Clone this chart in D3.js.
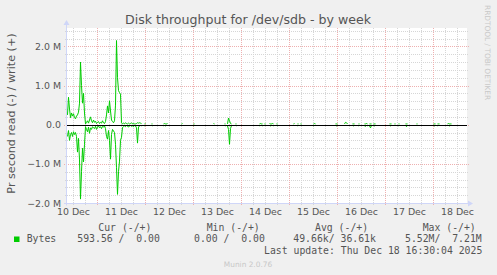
<!DOCTYPE html>
<html lang="en">
<head>
<meta charset="utf-8">
<title>Disk throughput for /dev/sdb - by week</title>
<script src="https://cdn.jsdelivr.net/npm/d3@7"></script>
<style>
  body { margin: 0; background: #f0f0f0; }
  svg text { fill: #555; }
  .sans { font-family: "DejaVu Sans", sans-serif; }
  .mono { font-family: "DejaVu Sans Mono", monospace; font-size: 9.8px; white-space: pre; }
</style>
</head>
<body>
<script>
// time window: 30 min per sample, 400 samples
const startTime = new Date(2025, 11, 10, 9, 0);
const endTime = new Date(2025, 11, 18, 17, 0);
const stepMinutes = 30;

// busy part at the start of the week, one value per sample (MB/s)
const writeBusy = [0.25, 0.70, 0.40, 0.18, 0.30, 0.22, 0.28, 0.18, 0.15, 0.22,
                   0.25, 0.32, 0.55, 1.60, 1.00, 0.55, 0.80, 0.30, 0.02, 0.06,
                   0.10, 0.04, 0.12, 0.20, 0.10, 0.05, 0.12, 0.06, 0.09, 0.03,
                   0.06, 0.08, 0.03, 0.06, 0.04, 0.10, 0.05, 0.03, 0.08, 0.25,
                   0.48, 0.30, 0.61, 0.35, 0.12, 0.08, 0.05, 0.10, 0.50, 2.15,
                   1.20, 0.87, 0.82, 0.78, 0.05, 0.02, 0.04, 0.02, 0.05, 0.03,
                   0.02, 0.04, 0.02, 0.03, 0.05, 0.02, 0.03, 0.02, 0.02, 0.03,
                   0.05, 0.04, 0.05, 0.04, 0.03];
const readBusy  = [0.30, 0.15, 0.40, 0.25, 0.20, 0.30, 0.18, 0.25, 0.20, 0.30,
                   0.70, 0.35, 0.90, 1.90, 1.20, 0.60, 0.95, 0.50, 0.05, 0.12,
                   0.18, 0.06, 0.22, 0.08, 0.12, 0.05, 0.08, 0.10, 0.04, 0.12,
                   0.06, 0.03, 0.08, 0.05, 0.10, 0.04, 0.06, 0.03, 0.10, 0.30,
                   0.37, 0.15, 0.40, 0.88, 0.25, 0.12, 0.16, 0.20, 0.50, 1.10,
                   1.78, 1.20, 0.93, 0.40, 0.32, 0.07, 0.05, 0.03, 0.05, 0.02,
                   0.04, 0.06, 0.03, 0.02, 0.04, 0.03, 0.05, 0.02, 0.03, 0.08,
                   0.47, 0.06, 0.03, 0.02, 0.03];

// later, only short runs of samples: [first sample, write values, read values]
const quietRuns = [
  [77,  [0.02, 0.03], [0.03, 0.02]],
  [84,  [0.02, 0.02], [0.02, 0.03]],
  [96,  [0.02, 0.03, 0.02, 0.02, 0.03], [0.03, 0.02, 0.03, 0.02, 0.02]],
  [114, [0.02, 0.03], [0.02, 0.02]],
  [126, [0.02, 0.02], [0.03, 0.02]],
  [146, [0.03, 0.02], [0.02, 0.02]],
  [157, [0.02, 0.02], [0.02, 0.03]],
  [160, [0.02, 0.17, 0.10, 0.03, 0.02], [0.03, 0.12, 0.50, 0.10, 0.02]],
  [168, [0.02, 0.02], [0.02, 0.03]],
  [192, [0.02, 0.03, 0.02, 0.02], [0.03, 0.02, 0.02, 0.03]],
  [197, [0.02, 0.02], [0.02, 0.02]],
  [202, [0.03, 0.02, 0.02, 0.03, 0.02], [0.02, 0.03, 0.02, 0.02, 0.03]],
  [209, [0.02, 0.02], [0.02, 0.03]],
  [226, [0.02, 0.03], [0.02, 0.02]],
  [230, [0.02, 0.02], [0.03, 0.02]],
  [233, [0.02, 0.02], [0.02, 0.02]],
  [246, [0.02, 0.03, 0.02], [0.03, 0.02, 0.02]],
  [268, [0.02, 0.02, 0.02], [0.02, 0.03, 0.02]],
  [277, [0.02, 0.06, 0.05, 0.02], [0.02, 0.02, 0.02, 0.02]],
  [285, [0.02, 0.02, 0.02], [0.02, 0.03, 0.02]],
  [291, [0.02, 0.02], [0.03, 0.02]],
  [297, [0.02, 0.02, 0.03, 0.02], [0.03, 0.04, 0.02, 0.03]],
  [302, [0.02, 0.02, 0.02], [0.03, 0.08, 0.02]],
  [306, [0.02, 0.02, 0.02], [0.02, 0.03, 0.02]],
  [322, [0.02, 0.02, 0.02], [0.02, 0.03, 0.02]],
  [327, [0.02, 0.02], [0.02, 0.02]],
  [331, [0.02, 0.02], [0.03, 0.02]],
  [338, [0.02, 0.02, 0.02], [0.02, 0.05, 0.02]],
  [349, [0.02, 0.02], [0.02, 0.02]],
  [366, [0.02, 0.02, 0.02], [0.02, 0.03, 0.02]],
  [370, [0.02, 0.02, 0.02], [0.03, 0.02, 0.02]],
  [380, [0.02, 0.03, 0.02, 0.02, 0.02], [0.02, 0.02, 0.03, 0.02, 0.02]]
];

// axis labels
const labelDays = [10, 11, 12, 13, 14, 15, 16, 17, 18];
const yLabelValues = [-2, -1, 0, 1, 2];
const legendHeads = ["Cur (-/+)", "Min (-/+)", "Avg (-/+)", "Max (-/+)"];
const legendValues = ["593.56 /  0.00", "0.00 /  0.00", "49.66k/ 36.61k", "5.52M/  7.21M"];

const W = 497, H = 275;
const plot = {left: 67, top: 28, width: 400, height: 175};

// put samples on a 400 slot timeline, NaN where nothing was recorded
const nSlots = 400;
const writeSeries = new Array(nSlots).fill(NaN);
const readSeries = new Array(nSlots).fill(NaN);
writeBusy.forEach((v, i) => writeSeries[i] = v);
readBusy.forEach((v, i) => readSeries[i] = v);
quietRuns.forEach(([s, w, r]) => {
  w.forEach((v, i) => writeSeries[s + i] = v);
  r.forEach((v, i) => readSeries[s + i] = v);
});
const slotTime = i => d3.timeMinute.offset(startTime, i * stepMinutes);

const x = d3.scaleTime()
  .domain([startTime, endTime])
  .range([plot.left, plot.left + plot.width]);
const y = d3.scaleLinear()
  .domain([-2.0, 2.47])
  .range([plot.top + plot.height, plot.top]);

const svg = d3.select("body").append("svg")
  .attr("width", W).attr("height", H)
  .style("display", "block");

svg.append("rect").attr("width", W).attr("height", H).attr("fill", "#f0f0f0");
svg.append("rect")
  .attr("x", plot.left).attr("y", plot.top)
  .attr("width", plot.width).attr("height", plot.height)
  .attr("fill", "#ffffff");

// grid
const grid = svg.append("g").attr("shape-rendering", "crispEdges");
const minorY = y.ticks(20).filter(v => Math.abs(v - Math.round(v)) > 1e-6);
grid.selectAll(".hminor").data(minorY).join("line")
  .attr("x1", plot.left - 2).attr("x2", plot.left + plot.width + 1)
  .attr("y1", d => Math.round(y(d)) + 0.5).attr("y2", d => Math.round(y(d)) + 0.5)
  .attr("stroke", "#d6d6d6").attr("stroke-dasharray", "1,1");
const minorX = d3.timeHour.every(6).range(startTime, endTime)
  .filter(t => t.getHours() !== 0);
grid.selectAll(".vminor").data(minorX).join("line")
  .attr("x1", d => Math.round(x(d)) + 0.5).attr("x2", d => Math.round(x(d)) + 0.5)
  .attr("y1", plot.top).attr("y2", plot.top + plot.height + 2)
  .attr("stroke", "#d6d6d6").attr("stroke-dasharray", "1,1");
grid.selectAll(".hmajor").data(yLabelValues).join("line")
  .attr("x1", plot.left - 3).attr("x2", plot.left + plot.width + 2)
  .attr("y1", d => Math.round(y(d)) + 0.5).attr("y2", d => Math.round(y(d)) + 0.5)
  .attr("stroke", "#eeb0b0").attr("stroke-dasharray", "1,1");
const majorX = d3.timeDay.range(startTime, endTime);
grid.selectAll(".vmajor").data(majorX).join("line")
  .attr("x1", d => Math.round(x(d)) + 0.5).attr("x2", d => Math.round(x(d)) + 0.5)
  .attr("y1", plot.top).attr("y2", plot.top + plot.height + 3)
  .attr("stroke", "#eeb0b0").attr("stroke-dasharray", "1,1");

// data lines
const slots = d3.range(nSlots);
const writeLine = d3.line()
  .defined(i => !isNaN(writeSeries[i]))
  .x(i => x(slotTime(i)) + 0.5)
  .y(i => y(writeSeries[i]));
const readLine = d3.line()
  .defined(i => !isNaN(readSeries[i]))
  .x(i => x(slotTime(i)) + 0.5)
  .y(i => y(-readSeries[i]));
svg.append("path").attr("d", readLine(slots))
  .attr("fill", "none").attr("stroke", "#00cc00").attr("stroke-width", 1);
svg.append("path").attr("d", writeLine(slots))
  .attr("fill", "none").attr("stroke", "#00cc00").attr("stroke-width", 1);

// zero rule
svg.append("line")
  .attr("x1", plot.left).attr("x2", plot.left + plot.width)
  .attr("y1", Math.round(y(0)) + 0.5).attr("y2", Math.round(y(0)) + 0.5)
  .attr("stroke", "#000").attr("shape-rendering", "crispEdges");

// axis lines with arrows
const axisCol = "#cfd6f8";
const x0 = plot.left - 0.5, yb = plot.top + plot.height + 0.5;
svg.append("line").attr("x1", x0).attr("x2", x0)
  .attr("y1", yb + 2).attr("y2", plot.top - 4).attr("stroke", axisCol);
svg.append("path").attr("d", `M${x0 - 3},${plot.top - 3}L${x0 + 3},${plot.top - 3}L${x0},${plot.top - 8}Z`)
  .attr("fill", axisCol);
svg.append("line").attr("x1", plot.left - 3).attr("x2", plot.left + plot.width + 3)
  .attr("y1", yb).attr("y2", yb).attr("stroke", axisCol);
svg.append("path").attr("d", `M${plot.left + plot.width + 1},${yb - 3}L${plot.left + plot.width + 1},${yb + 3}L${plot.left + plot.width + 6},${yb}Z`)
  .attr("fill", axisCol);

// y tick labels
const yAxis = d3.axisLeft(y).tickValues(yLabelValues).tickSize(0).tickPadding(0)
  .tickFormat(d => d === 0 ? "0.0" : d3.format(".1f")(d) + " M");
const gy = svg.append("g").attr("transform", `translate(${plot.left - 6},0)`).call(yAxis);
gy.select(".domain").remove();
gy.selectAll("text").attr("class", "sans").style("font-size", "9.4px")
  .attr("fill", "#555");

// x tick labels at noon
const noonTimes = labelDays.map(d => new Date(2025, 11, d, 12, 0));
const xAxis = d3.axisBottom(x).tickValues(noonTimes).tickSize(0).tickPadding(0)
  .tickFormat(d3.timeFormat("%d %b"));
const gx = svg.append("g").attr("transform", `translate(0,${plot.top + plot.height + 5})`).call(xAxis);
gx.select(".domain").remove();
gx.selectAll("text").attr("class", "sans").style("font-size", "9.4px")
  .attr("fill", "#555");

// title and labels
svg.append("text").attr("class", "sans")
  .attr("x", 248).attr("y", 23.5).attr("text-anchor", "middle")
  .style("font-size", "12.6px").text("Disk throughput for /dev/sdb - by week");
svg.append("text").attr("class", "sans")
  .attr("transform", "translate(14.5,113.5) rotate(-90)").attr("text-anchor", "middle")
  .style("font-size", "11.2px").text("Pr second read (-) / write (+)");
svg.append("text").attr("class", "sans")
  .attr("transform", "translate(485,5) rotate(90)")
  .style("font-size", "7.4px").style("fill", "#c8c8c8").text("RRDTOOL / TOBI OETIKER");

// legend
const headX = [98.3, 206.7, 315, 422.7];
const valX = [77.3, 194, 293.3, 405];
svg.selectAll(".lh").data(legendHeads).join("text").attr("class", "mono")
  .attr("x", (d, i) => headX[i]).attr("y", 231).text(d => d);
svg.append("rect").attr("x", 14).attr("y", 236.5).attr("width", 5.5).attr("height", 5.5)
  .attr("fill", "#00cc00");
svg.append("text").attr("class", "mono").attr("x", 26.7).attr("y", 242).text("Bytes");
svg.selectAll(".lv").data(legendValues).join("text").attr("class", "mono")
  .attr("x", (d, i) => valX[i]).attr("y", 242).text(d => d);
svg.append("text").attr("class", "mono").attr("x", 482.3).attr("y", 254)
  .attr("text-anchor", "end").text("Last update: Thu Dec 18 16:30:04 2025");
svg.append("text").attr("class", "sans").attr("x", 248).attr("y", 267)
  .attr("text-anchor", "middle").style("font-size", "7.4px").style("fill", "#c8c8c8")
  .text("Munin 2.0.76");
</script>
</body>
</html>
